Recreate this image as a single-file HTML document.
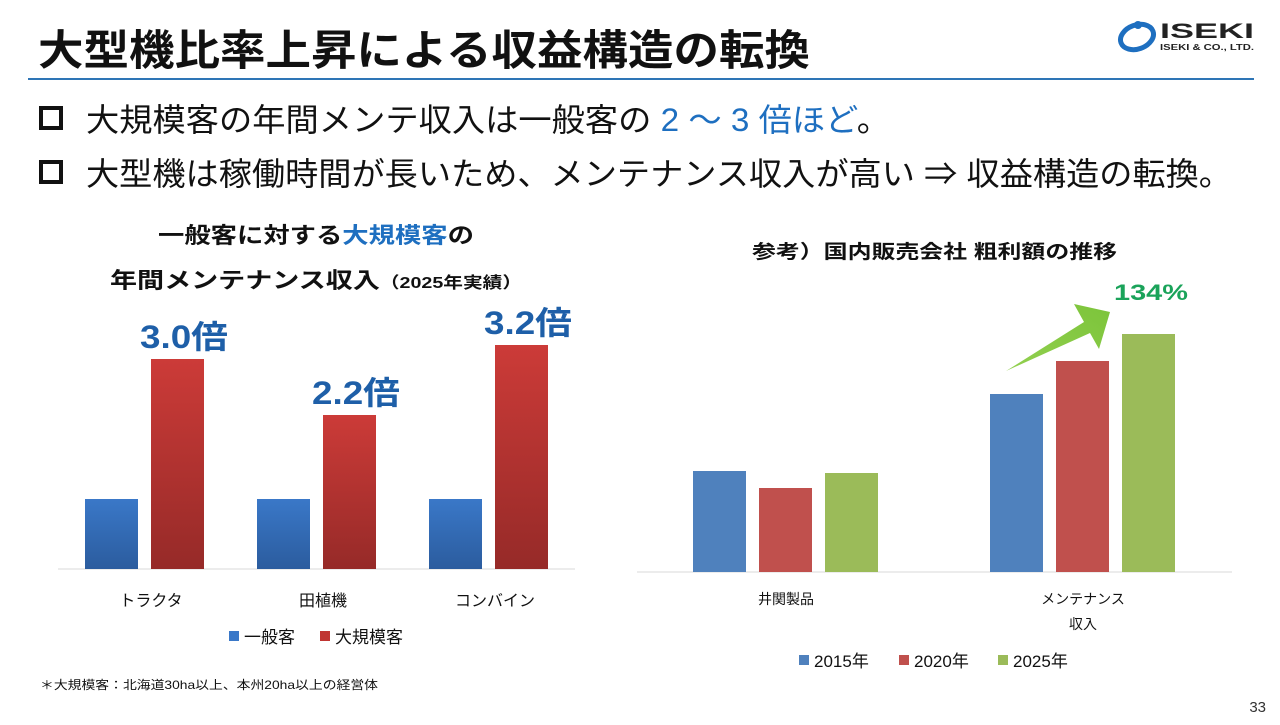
<!DOCTYPE html>
<html><head><meta charset="utf-8"><style>
body{margin:0;width:1280px;height:720px;background:#fff;overflow:hidden;font-family:"Liberation Sans","Noto Sans CJK JP",sans-serif;}
svg text{font-family:"Liberation Sans","Noto Sans CJK JP",sans-serif;}
</style></head><body>
<svg width="1280" height="720" xmlns="http://www.w3.org/2000/svg" id="s">
<defs>
<linearGradient id="gb" x1="0" y1="0" x2="0" y2="1"><stop offset="0" stop-color="#3a78c8"/><stop offset="1" stop-color="#2b5c9e"/></linearGradient>
<linearGradient id="gr" x1="0" y1="0" x2="0" y2="1"><stop offset="0" stop-color="#cc3b38"/><stop offset="1" stop-color="#962a28"/></linearGradient>
<linearGradient id="ga" x1="0" y1="1" x2="1" y2="0"><stop offset="0" stop-color="#92d050"/><stop offset="1" stop-color="#7cc43a"/></linearGradient>
</defs>
<text x="38" y="65" font-size="42" font-weight="bold" fill="#111" textLength="772" lengthAdjust="spacingAndGlyphs">大型機比率上昇による収益構造の転換</text>
<line x1="28" y1="79" x2="1254" y2="79" stroke="#2e75b6" stroke-width="2"/>
<g>
<ellipse cx="1137" cy="37" rx="17" ry="12" fill="none" stroke="#1e6fc0" stroke-width="5" transform="rotate(-20 1137 37)"/>
<circle cx="1138" cy="25" r="4" fill="#1e6fc0"/>
<text x="1160" y="38" font-size="21" font-weight="bold" fill="#222" textLength="94" lengthAdjust="spacingAndGlyphs">ISEKI</text>
<text x="1160" y="50" font-size="8" font-weight="bold" fill="#222" textLength="94" lengthAdjust="spacingAndGlyphs">ISEKI &amp; CO., LTD.</text>
</g>
<g>
<rect x="41" y="108" width="20" height="20" fill="none" stroke="#111" stroke-width="4"/>
<text x="86" y="131" font-size="32" fill="#111" textLength="804" lengthAdjust="spacingAndGlyphs">大規模客の年間メンテ収入は一般客の <tspan fill="#1e6fc0">2 ～ 3 倍ほど</tspan>。</text>
</g>
<g>
<rect x="41" y="162" width="20" height="20" fill="none" stroke="#111" stroke-width="4"/>
<text x="86" y="185" font-size="32" fill="#111" textLength="1146" lengthAdjust="spacingAndGlyphs">大型機は稼働時間が長いため、メンテナンス収入が高い ⇒ 収益構造の転換。</text>
</g>
<text x="158" y="243" font-size="22" font-weight="bold" fill="#111" textLength="316" lengthAdjust="spacingAndGlyphs">一般客に対する<tspan fill="#1e6fc0">大規模客</tspan>の</text>
<text x="110" y="288" font-size="22" font-weight="bold" fill="#111" textLength="412" lengthAdjust="spacingAndGlyphs">年間メンテナンス収入<tspan font-size="16">（2025年実績）</tspan></text>
<text x="752" y="258" font-size="19" font-weight="bold" fill="#111" textLength="365" lengthAdjust="spacingAndGlyphs">参考）国内販売会社 粗利額の推移</text>
<g id="left"></g><g id="right"></g>
<polygon points="1006,371 1084,322 1074,304 1110,312 1099,349 1090,333" fill="url(#ga)"/>
<text x="1114" y="300" font-size="22" font-weight="bold" fill="#1aa35a" textLength="74" lengthAdjust="spacingAndGlyphs">134%</text>
<text x="40" y="689" font-size="12" fill="#111" textLength="338" lengthAdjust="spacingAndGlyphs">＊大規模客：北海道30ha以上、本州20ha以上の経営体</text>
<text x="1266" y="712" font-size="15" text-anchor="end" fill="#333">33</text>
</svg>
<script>
const leftCats=['トラクタ','田植機','コンバイン'];
const leftGeneral=[1.0,1.0,1.0];
const leftLarge=[3.0,2.2,3.2];
const leftLabels=['3.0倍','2.2倍','3.2倍'];
const rightCats=['井関製品','メンテナンス'];
const rightS2015=[101,178];
const rightS2020=[84,211];
const rightS2025=[99,238];
const NS='http://www.w3.org/2000/svg';
function mk(p,t,a,txt){const e=document.createElementNS(NS,t);for(const k in a)e.setAttribute(k,a[k]);if(txt!==undefined)e.textContent=txt;p.appendChild(e);return e;}
const L=document.getElementById('left');
const lBase=569,lScale=70;
const ly=v=>lBase-v*lScale;
let ax=mk(L,'line',{x1:58,y1:lBase,x2:575,y2:lBase,stroke:'#d9d9d9'});


leftCats.forEach((c,i)=>{
 const cx=178+i*172;
 let b=mk(L,'rect',{x:cx-93,y:ly(leftGeneral[i]),width:53,height:lBase-ly(leftGeneral[i]),fill:'url(#gb)'});
 
 
 let r=mk(L,'rect',{x:cx-27,y:ly(leftLarge[i]),width:53,height:lBase-ly(leftLarge[i]),fill:'url(#gr)'});
 
 
 let t=mk(L,'text',{x:cx-38,y:ly(leftLarge[i])-11,'font-size':32,'font-weight':'bold',fill:'#1e5fa8',textLength:88,lengthAdjust:'spacingAndGlyphs'},leftLabels[i]);
 
 
 let c2=mk(L,'text',{x:cx-27,y:606,'font-size':16,'text-anchor':'middle',fill:'#111'},c);
 
 
});
[['一般客','#3a78c8',229],['大規模客','#c03532',320]].forEach(([n,col,x])=>{
 let g=mk(L,'g',{});
 
 
 mk(g,'rect',{x:x,y:631,width:10,height:10,fill:col});
 mk(g,'text',{x:x+15,y:643,'font-size':17,fill:'#111'},n);
});
const R=document.getElementById('right');
const rBase=572;
const ry=v=>rBase-v;
ax=mk(R,'line',{x1:637,y1:rBase,x2:1232,y2:rBase,stroke:'#d9d9d9'});


const series=[[rightS2015,'#4f81bd'],[rightS2020,'#c0504d'],[rightS2025,'#9bbb59']];
rightCats.forEach((c,i)=>{
 const gx=693+i*297;
 series.forEach(([arr,col],j)=>{
  let b=mk(R,'rect',{x:gx+j*66,y:ry(arr[i]),width:53,height:arr[i],fill:col});
  
  
 });
});
let t1=mk(R,'text',{x:786,y:604,'font-size':14,'text-anchor':'middle',fill:'#111'},rightCats[0]);


let t2=mk(R,'text',{x:1083,y:604,'font-size':14,'text-anchor':'middle',fill:'#111'},rightCats[1]);


let t3=mk(R,'text',{x:1083,y:629,'font-size':14,'text-anchor':'middle',fill:'#111'},'収入');


[['2015年','#4f81bd',799],['2020年','#c0504d',899],['2025年','#9bbb59',998]].forEach(([n,col,x])=>{
 let g=mk(R,'g',{});
 
 
 mk(g,'rect',{x:x,y:655,width:10,height:10,fill:col});
 mk(g,'text',{x:x+15,y:667,'font-size':17,fill:'#111'},n);
});
</script>
</body></html>
